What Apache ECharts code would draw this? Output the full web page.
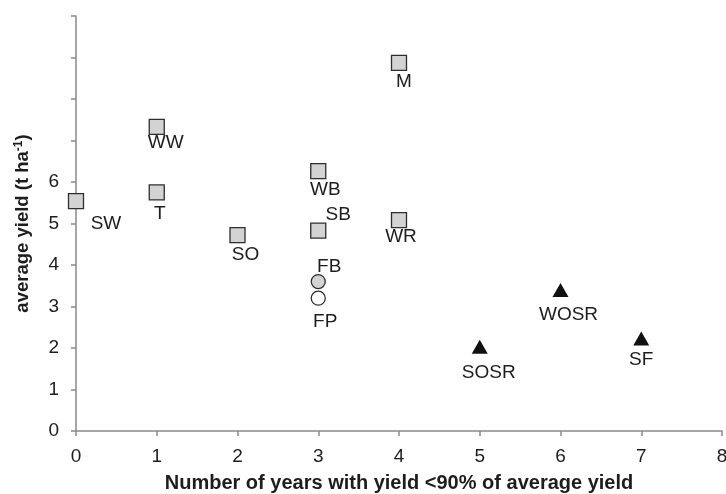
<!DOCTYPE html>
<html>
<head>
<meta charset="utf-8">
<script src="https://cdn.jsdelivr.net/npm/echarts@6/dist/echarts.min.js"></script>
<style>
  html, body { margin: 0; padding: 0; background: #fff; }
  #chart { width: 726px; height: 494px; }
</style>
</head>
<body>
<div id="chart"></div>
<script>
// Cereals and other crops (grey squares)
const squareCrops  = ['SW', 'WW', 'T', 'SO', 'WB', 'SB', 'M', 'WR'];
const squareYears  = [0, 1, 1, 2, 3, 3, 4, 4];
const squareYields = [5.54, 7.33, 5.75, 4.72, 6.26, 4.83, 8.87, 5.08];

// Legumes (circles): field bean grey, field pea white
const beanCrops  = ['FB'];
const beanYears  = [3];
const beanYields = [3.6];
const peaCrops  = ['FP'];
const peaYears  = [3];
const peaYields = [3.2];

// Oilseeds (black triangles)
const oilCrops  = ['SOSR', 'WOSR', 'SF'];
const oilYears  = [5, 6, 7];
const oilYields = [2.03, 3.40, 2.23];

// Y tick values that carry a printed label
const yLabelledTicks = [0, 1, 2, 3, 4, 5, 6];

// Where each crop name sits relative to its marker, in pixels
const labelOffsets = {
  SW: [30, 23], WW: [9, 16], T: [3, 21], SO: [8, 20], WB: [7, 19],
  SB: [20, -16], M: [5, 19], WR: [2, 17], FB: [11, -15], FP: [7, 24],
  SOSR: [9, 26], WOSR: [8, 25], SF: [0, 21]
};

const font = '"Liberation Sans", Arial, sans-serif';
const ink = '#1e1c1d';

function points(names, xs, ys) {
  return names.map((n, i) => ({
    name: n,
    value: [xs[i], ys[i]],
    label: { offset: labelOffsets[n] }
  }));
}

const labelStyle = {
  show: true,
  position: 'inside',
  formatter: '{b}',
  fontFamily: font,
  fontSize: 19,
  color: ink
};

const chart = echarts.init(document.getElementById('chart'), null, { renderer: 'canvas' });

chart.setOption({
  animation: false,
  backgroundColor: '#ffffff',
  grid: { left: 76, right: 4, top: 16, bottom: 63, containLabel: false, outerBoundsMode: 'none' },
  xAxis: {
    type: 'value',
    min: 0, max: 8, interval: 1,
    name: 'Number of years with yield <90% of average yield',
    nameLocation: 'middle',
    nameGap: 42,
    nameTextStyle: { fontFamily: font, fontSize: 20, fontWeight: 'bold', color: ink },
    axisLine: { lineStyle: { color: '#8a8a8a', width: 1.5 } },
    axisTick: { show: true, length: 5, lineStyle: { color: '#8a8a8a', width: 1.5 } },
    axisLabel: { fontFamily: font, fontSize: 19, color: ink, margin: 16 },
    splitLine: { show: false }
  },
  yAxis: {
    type: 'value',
    min: 0, max: 10, interval: 1,
    name: 'average yield (t ha{sup|-1})',
    nameLocation: 'middle',
    nameGap: 43,
    nameRotate: 90,
    nameTextStyle: {
      fontFamily: font, fontSize: 18.5, fontWeight: 'bold', color: ink,
      rich: {
        sup: { fontFamily: font, fontSize: 12, fontWeight: 'bold', color: ink, verticalAlign: 'top', padding: [0, 0, 8, 0] }
      }
    },
    axisLine: { show: true, lineStyle: { color: '#8a8a8a', width: 1.5 } },
    axisTick: { show: true, length: 5, lineStyle: { color: '#8a8a8a', width: 1.5 } },
    axisLabel: {
      fontFamily: font, fontSize: 19, color: ink, margin: 17,
      formatter: v => (yLabelledTicks.includes(v) ? String(v) : '')
    },
    splitLine: { show: false }
  },
  series: [
    {
      type: 'scatter',
      symbol: 'rect',
      symbolSize: 15,
      itemStyle: { color: '#d3d3d3', borderColor: '#2e2e2e', borderWidth: 1.3, opacity: 1 },
      label: labelStyle,
      data: points(squareCrops, squareYears, squareYields)
    },
    {
      type: 'scatter',
      symbol: 'circle',
      symbolSize: 14,
      itemStyle: { color: '#d3d3d3', borderColor: '#2e2e2e', borderWidth: 1.3, opacity: 1 },
      label: labelStyle,
      data: points(beanCrops, beanYears, beanYields)
    },
    {
      type: 'scatter',
      symbol: 'circle',
      symbolSize: 14,
      itemStyle: { color: '#ffffff', borderColor: '#2e2e2e', borderWidth: 1.3, opacity: 1 },
      label: labelStyle,
      data: points(peaCrops, peaYears, peaYields)
    },
    {
      type: 'scatter',
      symbol: 'triangle',
      symbolSize: [16, 14],
      itemStyle: { color: '#111111', opacity: 1 },
      label: labelStyle,
      data: points(oilCrops, oilYears, oilYields)
    }
  ]
});
</script>
</body>
</html>
